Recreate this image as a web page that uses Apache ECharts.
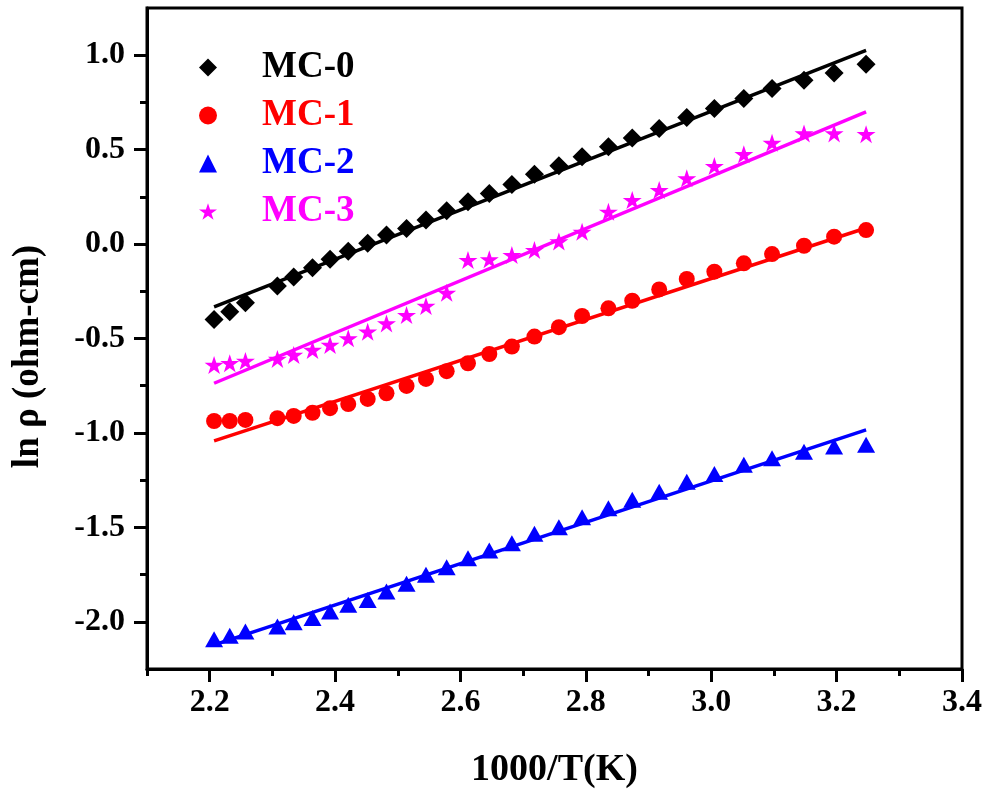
<!DOCTYPE html>
<html>
<head>
<meta charset="utf-8">
<script src="https://cdn.jsdelivr.net/npm/echarts@6/dist/echarts.min.js"></script>
<style>
html,body{margin:0;padding:0;background:#fff;}
#chart{width:992px;height:799px;}
</style>
</head>
<body>
<div id="chart"></div>
<script>
const xValues = [2.207, 2.232, 2.257, 2.308, 2.334, 2.364, 2.392, 2.421, 2.452, 2.482, 2.514, 2.545, 2.578, 2.612, 2.646, 2.682, 2.718, 2.757, 2.794, 2.836, 2.874, 2.917, 2.961, 3.005, 3.052, 3.097, 3.148, 3.196, 3.247];
const mc0 = [-0.399, -0.358, -0.311, -0.222, -0.175, -0.125, -0.081, -0.038, 0.004, 0.048, 0.083, 0.127, 0.176, 0.224, 0.268, 0.316, 0.370, 0.415, 0.462, 0.515, 0.562, 0.612, 0.670, 0.718, 0.771, 0.824, 0.868, 0.906, 0.952];
const mc1 = [-0.937, -0.937, -0.931, -0.922, -0.910, -0.893, -0.869, -0.847, -0.820, -0.790, -0.751, -0.714, -0.673, -0.631, -0.582, -0.543, -0.490, -0.440, -0.381, -0.340, -0.300, -0.240, -0.185, -0.146, -0.102, -0.053, -0.009, 0.039, 0.074];
const mc2 = [-2.092, -2.074, -2.051, -2.025, -2.002, -1.980, -1.946, -1.910, -1.884, -1.840, -1.799, -1.751, -1.711, -1.663, -1.623, -1.584, -1.534, -1.500, -1.446, -1.399, -1.354, -1.311, -1.258, -1.217, -1.169, -1.134, -1.099, -1.072, -1.063];
const mc3 = [-0.640, -0.631, -0.619, -0.608, -0.587, -0.561, -0.534, -0.499, -0.464, -0.420, -0.376, -0.328, -0.258, -0.085, -0.081, -0.058, -0.032, 0.014, 0.065, 0.171, 0.233, 0.286, 0.348, 0.413, 0.476, 0.536, 0.586, 0.586, 0.582];
const fitX = [2.207, 3.247];
const fit0 = [-0.332, 1.026];
const fit1 = [-1.042, 0.085];
const fit2 = [-2.122, -0.984];
const fit3 = [-0.737, 0.700];
const seriesNames = ['MC-0', 'MC-1', 'MC-2', 'MC-3'];
const xMajorTicks = [2.2, 2.4, 2.6, 2.8, 3.0, 3.2, 3.4];
const xMinorTicks = [2.1, 2.3, 2.5, 2.7, 2.9, 3.1, 3.3];
const yMajorTicks = [-2.0, -1.5, -1.0, -0.5, 0.0, 0.5, 1.0];
const yMinorTicks = [-1.75, -1.25, -0.75, -0.25, 0.25, 0.75];

const colors = ['#000000', '#ff0000', '#0000ff', '#ff00ff'];
const starPath = 'path://M50,0 L61.8,35.3 L100,35.3 L69.1,57.1 L80.9,92.7 L50,70.6 L19.1,92.7 L30.9,57.1 L0,35.3 L38.2,35.3 Z';
const symbols = ['diamond', 'circle', 'triangle', starPath];
const symbolSizes = [[19, 19], [16, 16], [18, 16], [19, 18]];
const values = [mc0, mc1, mc2, mc3];
const fits = [fit0, fit1, fit2, fit3];
const FONT = "'Liberation Serif', 'Times New Roman', Times, serif";

const series = [];
values.forEach((vals, i) => {
  series.push({
    name: seriesNames[i],
    type: 'scatter',
    symbol: symbols[i],
    symbolSize: symbolSizes[i],
    itemStyle: { color: colors[i], opacity: 1 },
    data: xValues.map((x, k) => [x, vals[k]]),
    z: 2
  });
});
fits.forEach((f, i) => {
  series.push({
    name: 'fit-' + i,
    type: 'line',
    showSymbol: false,
    symbol: 'none',
    lineStyle: { color: colors[i], width: 3.5 },
    data: fitX.map((x, k) => [x, f[k]]),
    z: 3,
    silent: true
  });
});

const chart = echarts.init(document.getElementById('chart'), null, { renderer: 'canvas' });
chart.setOption({
  animation: false,
  backgroundColor: '#ffffff',
  grid: {
    left: 147, right: 30, top: 8, bottom: 130,
    show: true, borderColor: '#000', borderWidth: 3, backgroundColor: 'transparent',
    containLabel: false
  },
  legend: {
    orient: 'vertical',
    left: 194,
    top: 44,
    itemWidth: 18,
    itemHeight: 18,
    itemGap: 11,
    selectedMode: false,
    data: seriesNames.map((n, i) => ({
      name: n,
      textStyle: { color: colors[i] }
    })),
    textStyle: {
      fontFamily: FONT, fontWeight: 'bold', fontSize: 37, lineHeight: 37,
      padding: [0, 0, 0, 40]
    }
  },
  xAxis: [
    {
      type: 'value', min: 2.1, max: 3.4, position: 'bottom',
      name: '1000/T(K)', nameLocation: 'middle', nameGap: 82,
      nameTextStyle: { fontFamily: FONT, fontWeight: 'bold', fontSize: 38, color: '#000' },
      axisLine: { show: true, onZero: false, lineStyle: { color: '#000', width: 3 } },
      axisTick: { show: true, inside: false, length: 13, customValues: xMajorTicks, lineStyle: { color: '#000', width: 3 } },
      axisLabel: { show: true, margin: 18, customValues: xMajorTicks, formatter: v => v.toFixed(1),
        fontFamily: FONT, fontWeight: 'bold', fontSize: 32, color: '#000' },
      splitLine: { show: false }
    },
    {
      type: 'value', min: 2.1, max: 3.4, position: 'bottom', gridIndex: 0,
      axisLine: { show: false, onZero: false },
      axisTick: { show: true, inside: false, length: 7, customValues: xMinorTicks, lineStyle: { color: '#000', width: 3 } },
      axisLabel: { show: false },
      splitLine: { show: false }
    }
  ],
  yAxis: [
    {
      type: 'value', min: -2.25, max: 1.25, position: 'left',
      name: 'ln ρ (ohm-cm)', nameLocation: 'middle', nameGap: 100, nameRotate: 90,
      nameTextStyle: { fontFamily: FONT, fontWeight: 'bold', fontSize: 37, color: '#000', padding: [0, 36, 0, 0] },
      axisLine: { show: true, onZero: false, lineStyle: { color: '#000', width: 3 } },
      axisTick: { show: true, inside: false, length: 13, customValues: yMajorTicks, lineStyle: { color: '#000', width: 3 } },
      axisLabel: { show: true, margin: 22, customValues: yMajorTicks, formatter: v => v.toFixed(1),
        fontFamily: FONT, fontWeight: 'bold', fontSize: 32, color: '#000' },
      splitLine: { show: false }
    },
    {
      type: 'value', min: -2.25, max: 1.25, position: 'left', gridIndex: 0,
      axisLine: { show: false, onZero: false },
      axisTick: { show: true, inside: false, length: 7, customValues: yMinorTicks, lineStyle: { color: '#000', width: 3 } },
      axisLabel: { show: false },
      splitLine: { show: false }
    }
  ],
  series: series
});
</script>
</body>
</html>
